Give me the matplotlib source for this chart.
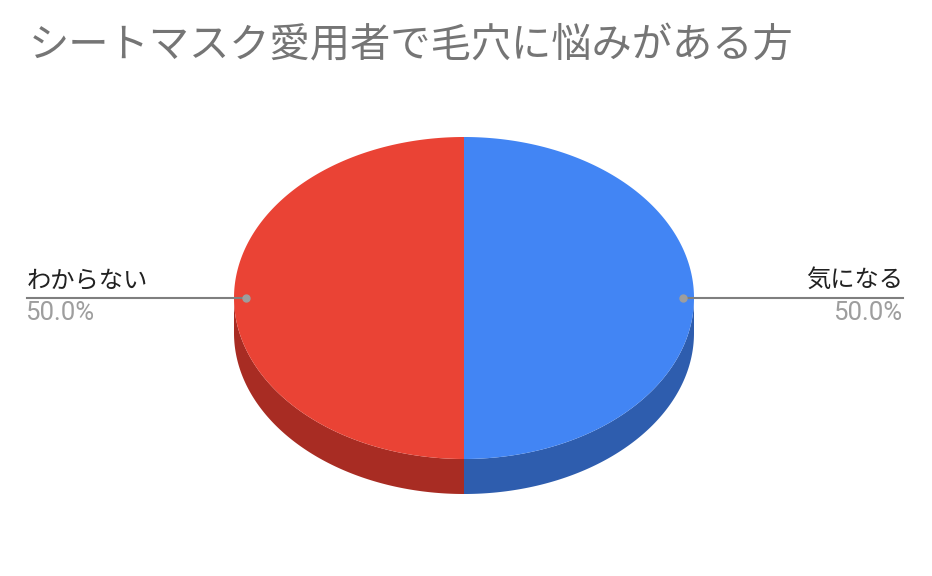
import matplotlib
matplotlib.use("Agg")
from matplotlib import pyplot as plt
import numpy as np

plt.rcParams['font.family'] = ['Noto Sans CJK JP', 'DejaVu Sans']

# data
title = "シートマスク愛用者で毛穴に悩みがある方"
labels = ["気になる", "わからない"]
values = [50, 50]
top_colors = ["#4285F4", "#EA4335"]
side_colors = ["#2E5DAE", "#A82C23"]

# pie geometry in pixels
cx, cy = 464, 298
ra, rb = 230, 161
depth = 35

fig = plt.figure(figsize=(9.32, 5.76), dpi=100)
ax = fig.add_axes([0, 0, 1, 1])
ax.set_xlim(0, 932)
ax.set_ylim(576, 0)
ax.axis("off")


def pt(theta, r=1.0):
    # theta: clockwise from 12 o'clock, radians
    return cx + r * ra * np.sin(theta), cy - r * rb * np.cos(theta)


fracs = np.array(values, dtype=float) / sum(values)
edges = np.concatenate([[0], np.cumsum(fracs)]) * 2 * np.pi

# side faces (front half only)
for i in range(len(values)):
    t0 = max(edges[i], np.pi / 2)
    t1 = min(edges[i + 1], 3 * np.pi / 2)
    if t1 <= t0:
        continue
    th = np.linspace(t0, t1, 200)
    xs, ys = pt(th)
    px = np.concatenate([xs, xs[::-1]])
    py = np.concatenate([ys, ys[::-1] + depth])
    ax.fill(px, py, color=side_colors[i], lw=0, zorder=1)

# top faces
for i in range(len(values)):
    th = np.linspace(edges[i], edges[i + 1], 300)
    xs, ys = pt(th)
    ax.fill(np.concatenate([[cx], xs]), np.concatenate([[cy], ys]),
            color=top_colors[i], lw=0, zorder=2)

# labels
for i in range(len(values)):
    mid = (edges[i] + edges[i + 1]) / 2
    dx, dy = pt(mid, 0.95)
    right = np.sin(mid) > 0
    tx = 903 if right else 27
    ha = "right" if right else "left"
    ax.plot([dx, tx], [dy, dy], color="#7F7F7F", lw=1.5, zorder=3)
    ax.plot(dx, dy, "o", color="#9E9E9E", ms=5, zorder=4)
    ax.text(tx, dy - 5, labels[i], ha=ha, va="bottom", fontsize=17.5,
            color="#212121", zorder=5)
    ax.text(tx - 1 if right else tx - 1.5, dy + 3, f"{fracs[i] * 100:.1f}%",
            ha=ha, va="top", fontsize=18.5, color="#9E9E9E",
            family=["Roboto", "DejaVu Sans"], zorder=5)

ax.text(29, 46, title, ha="left", va="center", fontsize=29, color="#757575")

fig.savefig("out.png", dpi=100)
